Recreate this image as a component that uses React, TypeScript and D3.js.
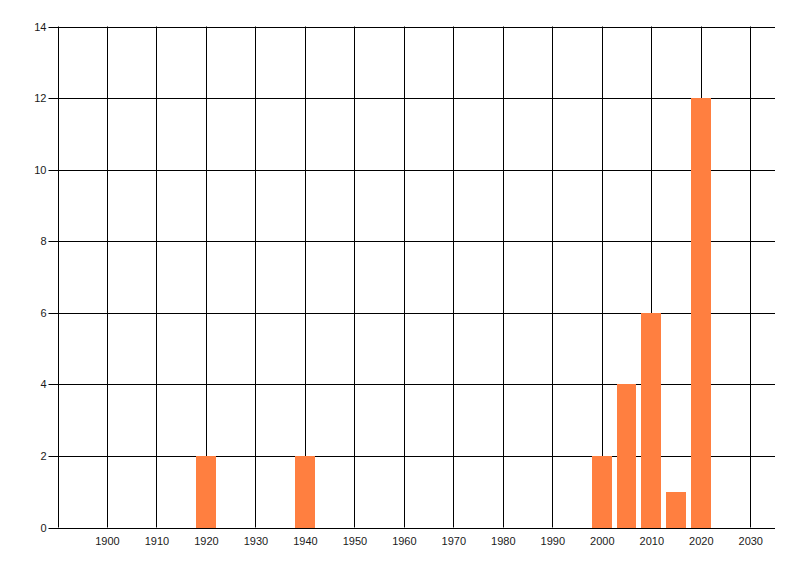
import { useEffect, useRef } from "react"
import * as d3 from "d3"

const years = [1920, 1940, 2000, 2005, 2010, 2015, 2020]
const counts = [2, 2, 2, 4, 6, 1, 12]
const xTicks = [1900, 1910, 1920, 1930, 1940, 1950, 1960, 1970, 1980, 1990, 2000, 2010, 2020, 2030]
const yTicks = [0, 2, 4, 6, 8, 10, 12, 14]

const App = () => {
  const ref = useRef<SVGSVGElement>(null)

  useEffect(() => {
    const svg = d3.select(ref.current)
    svg.selectAll("*").remove()

    const left = 57.5
    const right = 775
    const top = 26.5
    const bottom = 527.5

    const x = d3.scaleLinear().domain([1890, 2035]).range([left, right])
    const y = d3.scaleLinear().domain([0, 14]).range([bottom, top])

    svg.append("rect")
      .attr("width", 800)
      .attr("height", 576)
      .attr("fill", "#ffffff")

    const g = svg.append("g")

    // Horizontal grid lines
    g.selectAll(".hgrid")
      .data(yTicks)
      .enter()
      .append("line")
      .attr("x1", left - 9)
      .attr("x2", right)
      .attr("y1", d => Math.round(y(d)) + 0.5)
      .attr("y2", d => Math.round(y(d)) + 0.5)
      .attr("stroke", "#000")
      .attr("stroke-width", 1)

    // Vertical grid lines
    g.selectAll(".vgrid")
      .data(xTicks)
      .enter()
      .append("line")
      .attr("x1", d => Math.round(x(d)) + 0.5)
      .attr("x2", d => Math.round(x(d)) + 0.5)
      .attr("y1", top)
      .attr("y2", bottom)
      .attr("stroke", "#000")
      .attr("stroke-width", 1)

    // Bars
    const barW = 4
    g.selectAll(".bar")
      .data(years)
      .enter()
      .append("rect")
      .attr("x", d => Math.round(x(d - barW / 2)))
      .attr("width", d => Math.round(x(d + barW / 2)) - Math.round(x(d - barW / 2)))
      .attr("y", (_, i) => Math.round(y(counts[i])))
      .attr("height", (_, i) => Math.round(bottom) - Math.round(y(counts[i])) )
      .attr("fill", "#ff7f40")

    // Y axis line
    g.append("line")
      .attr("x1", Math.round(left) + 0.5)
      .attr("x2", Math.round(left) + 0.5)
      .attr("y1", top)
      .attr("y2", bottom)
      .attr("stroke", "#000")

    // Bottom axis line
    g.append("line")
      .attr("x1", left)
      .attr("x2", right)
      .attr("y1", Math.round(bottom) + 0.5)
      .attr("y2", Math.round(bottom) + 0.5)
      .attr("stroke", "#000")

    // Y labels
    g.selectAll(".ylab")
      .data(yTicks)
      .enter()
      .append("text")
      .attr("x", left - 11)
      .attr("y", d => y(d) + 4)
      .attr("text-anchor", "end")
      .attr("font-family", "Liberation Sans, Arial, sans-serif")
      .attr("font-size", 11)
      .attr("fill", "#1a1a1a")
      .text(d => d)

    // X labels
    g.selectAll(".xlab")
      .data(xTicks)
      .enter()
      .append("text")
      .attr("x", d => x(d) + 0.5)
      .attr("y", bottom + 17)
      .attr("text-anchor", "middle")
      .attr("font-family", "Liberation Sans, Arial, sans-serif")
      .attr("font-size", 11)
      .attr("fill", "#1a1a1a")
      .text(d => d)
  }, [])

  return (
    <svg
      ref={ref}
      width={800}
      height={576}
      style={{ position: "absolute", left: 0, top: 0, display: "block" }}
    />
  )
}

export default App
